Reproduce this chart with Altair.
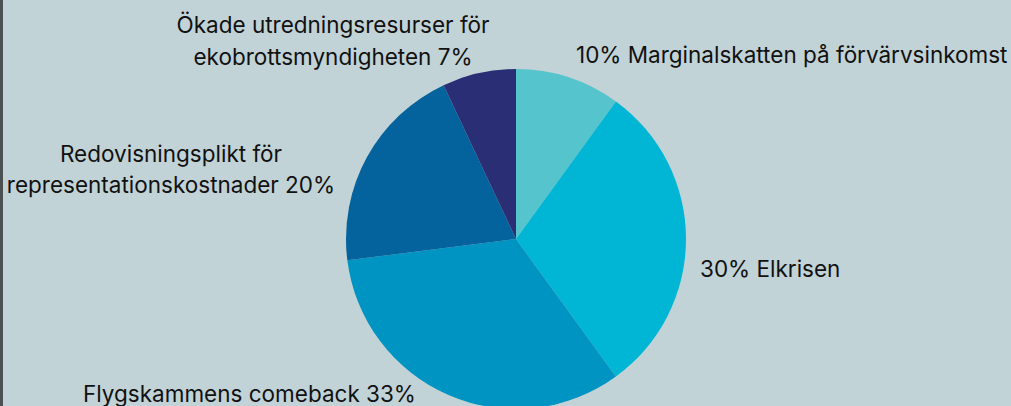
import altair as alt
import pandas as pd

# Data
categories = [
    "Marginalskatten på förvärvsinkomst",
    "Elkrisen",
    "Flygskammens comeback",
    "Redovisningsplikt för representationskostnader",
    "Ökade utredningsresurser för ekobrottsmyndigheten",
]
values = [10, 30, 33, 20, 7]
colors = ["#55c4cc", "#00b6d4", "#0094c3", "#04629d", "#2a2e74"]

# Label lines (text) and their layout (kept separate)
label_lines = [
    "10% Marginalskatten på förvärvsinkomst",
    "30% Elkrisen",
    "Flygskammens comeback 33%",
    "Redovisningsplikt för",
    "representationskostnader 20%",
    "Ökade utredningsresurser för",
    "ekobrottsmyndigheten 7%",
]
label_layout = [
    (576, 63, "left"),
    (700, 277, "left"),
    (83, 402, "left"),
    (171, 162, "center"),
    (171, 193, "center"),
    (333, 33, "center"),
    (333, 65, "center"),
]

W, H = 1011, 406
CX, CY, R = 516, 239, 170
FONT = "Inter"
FS = 22.5

pie_df = pd.DataFrame({"cat": categories, "value": values, "idx": list(range(len(values)))})

pie = alt.Chart(pie_df).mark_arc(radius=R, stroke=None).encode(
    theta=alt.Theta("value:Q", stack=True),
    order=alt.Order("idx:Q"),
    color=alt.Color("cat:N", scale=alt.Scale(domain=categories, range=colors), legend=None),
    x=alt.value(CX),
    y=alt.value(CY),
)

strip = alt.Chart(pd.DataFrame({"a": [0]})).mark_rect(color="#4b5153").encode(
    x=alt.value(0), x2=alt.value(3), y=alt.value(0), y2=alt.value(H)
)

layers = [strip, pie]
for text, (lx, ly, al) in zip(label_lines, label_layout):
    layers.append(
        alt.Chart(pd.DataFrame({"t": [text]})).mark_text(
            font=FONT, fontSize=FS, color="#111111", align=al, baseline="alphabetic"
        ).encode(text="t:N", x=alt.value(lx), y=alt.value(ly))
    )

chart = alt.layer(*layers).properties(
    width=W, height=H, padding=0,
    autosize=alt.AutoSizeParams(type="fit", contains="padding"),
    background="#c1d3d6",
).configure_view(stroke=None)

chart.save("out.html", embed_options={"renderer": "svg", "actions": False})
